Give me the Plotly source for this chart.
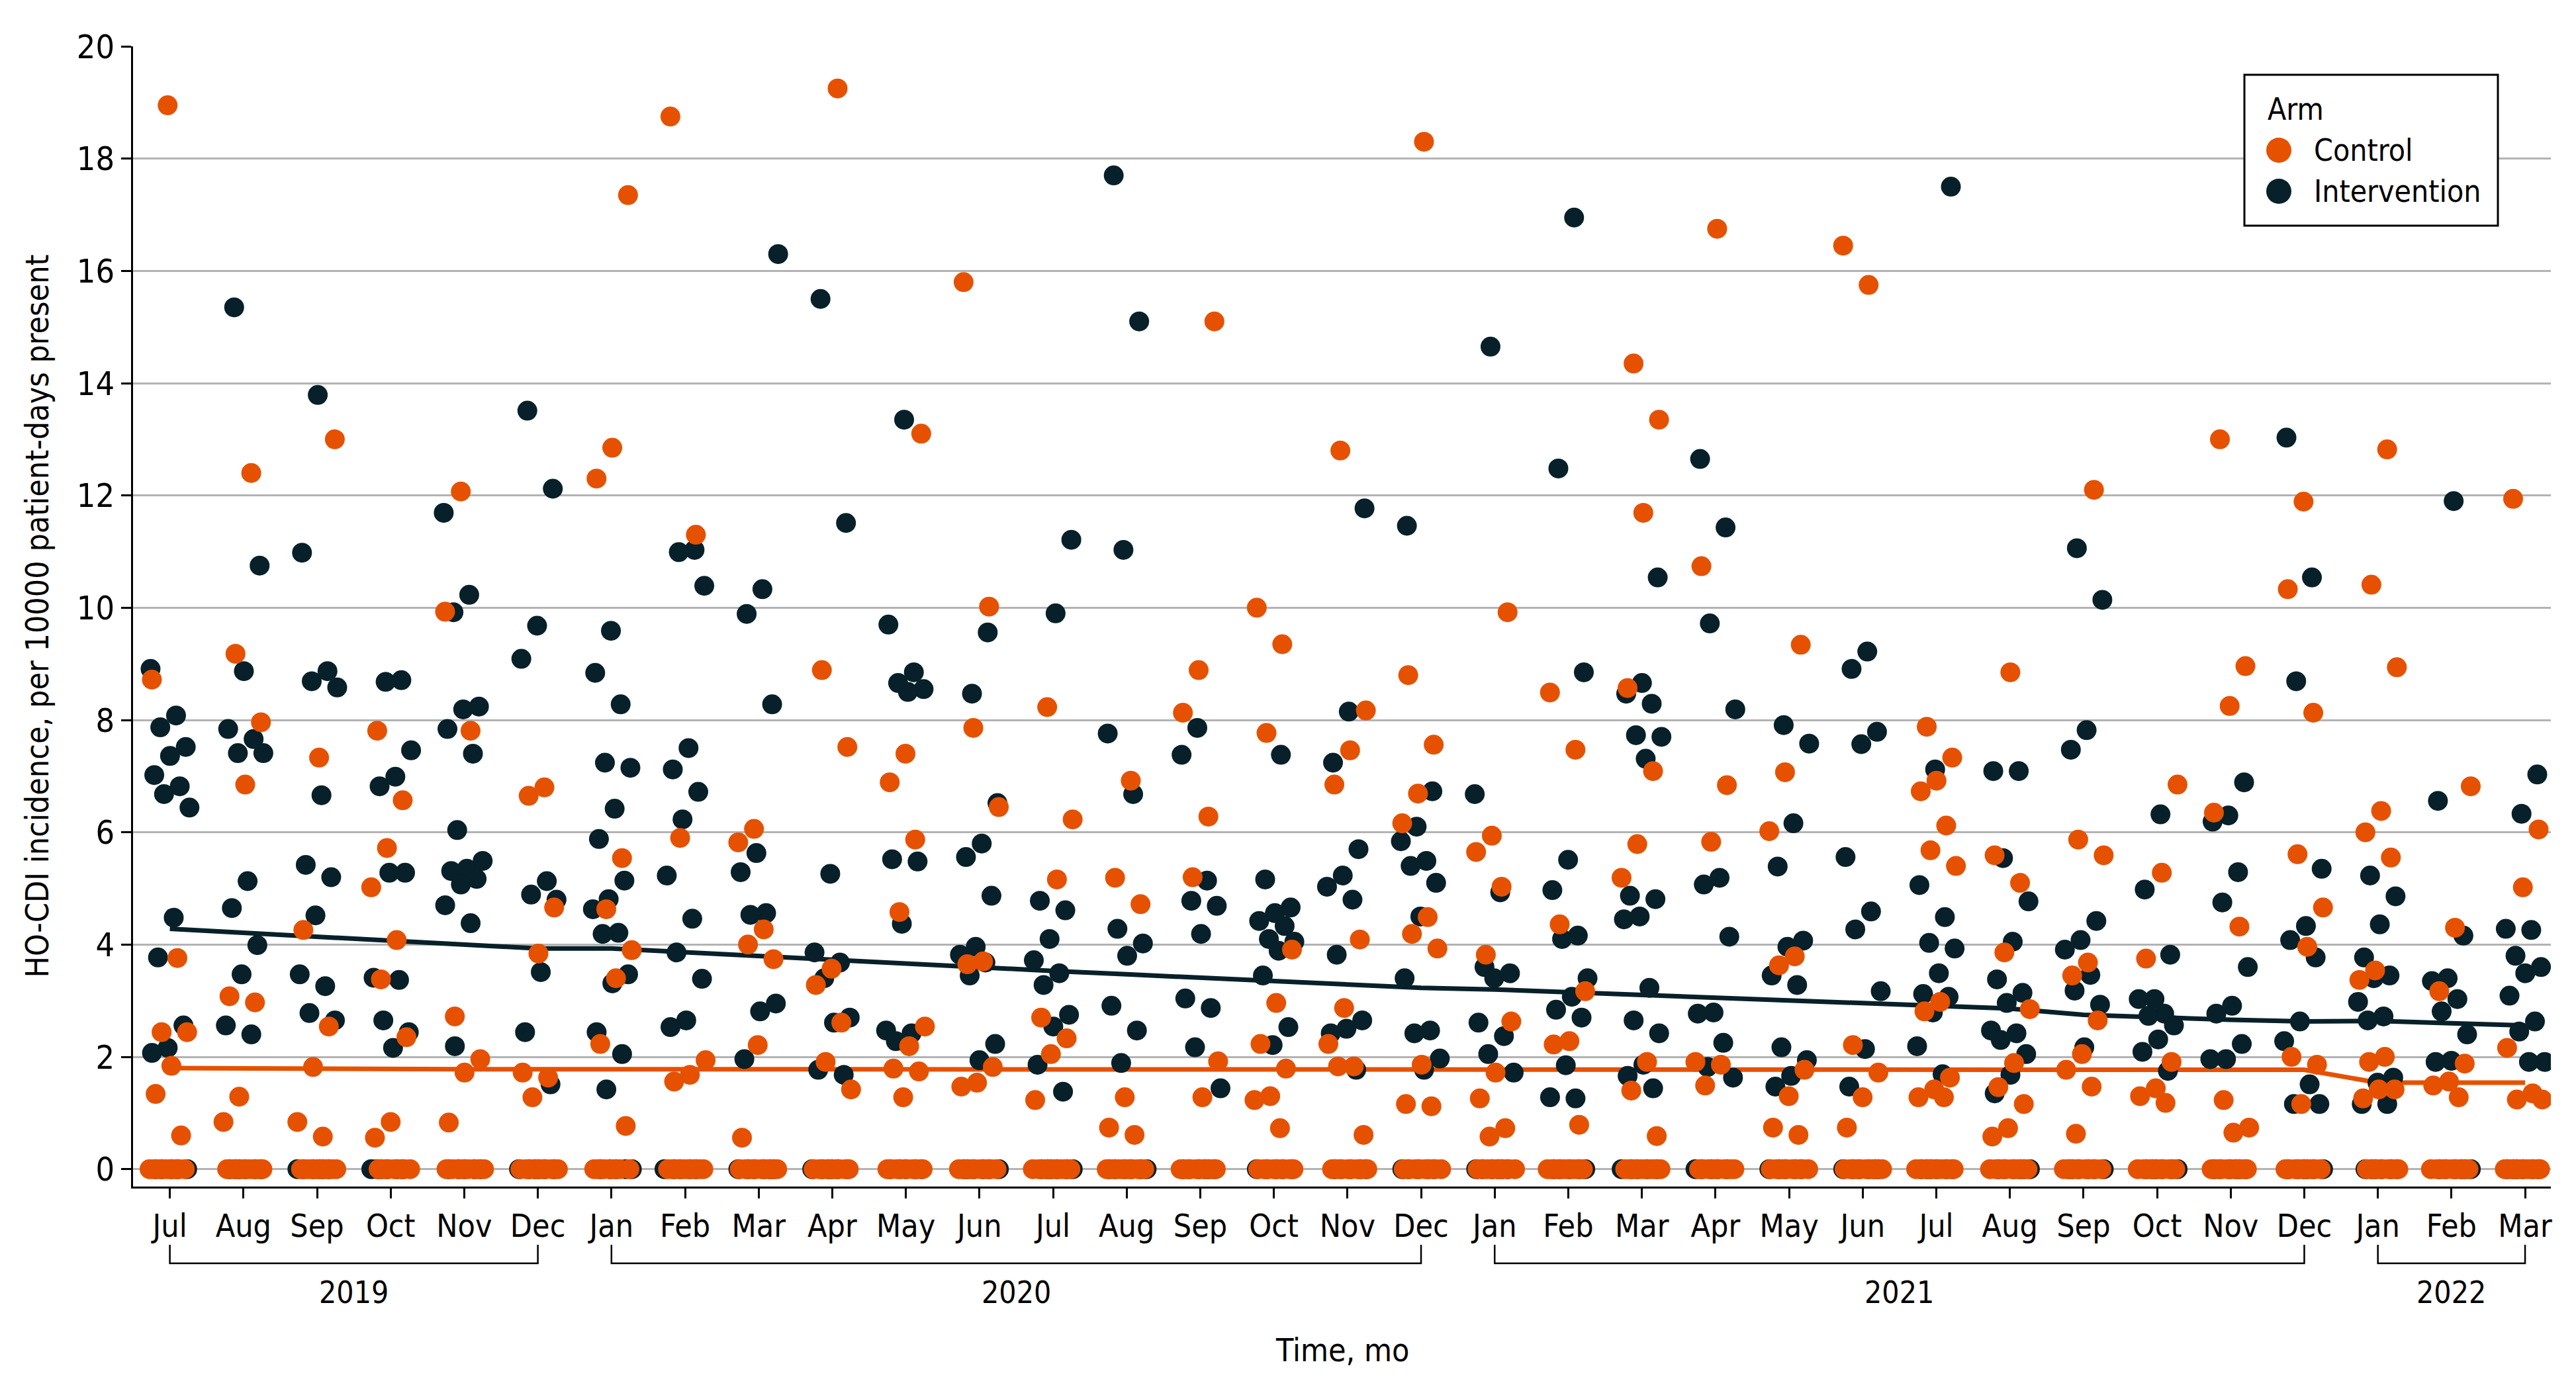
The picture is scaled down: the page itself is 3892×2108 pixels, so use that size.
import plotly.graph_objects as go

# Month axis (Jul 2019 - Mar 2022)
MONTHS = ["Jul", "Aug", "Sep", "Oct", "Nov", "Dec",
          "Jan", "Feb", "Mar", "Apr", "May", "Jun", "Jul", "Aug", "Sep", "Oct", "Nov", "Dec",
          "Jan", "Feb", "Mar", "Apr", "May", "Jun", "Jul", "Aug", "Sep", "Oct", "Nov", "Dec",
          "Jan", "Feb", "Mar"]
YEARS = ["2019", "2020", "2021", "2022"]
YEAR_START = [0, 6, 18, 30]
YEAR_END = [5, 17, 29, 32]

# Non-zero hospital-month incidences, per month
CONTROL = [
    [18.95, 8.72, 3.76, 2.44, 2.44, 1.84, 1.34, 0.60],
    [12.40, 9.18, 7.96, 6.85, 3.08, 2.97, 1.29, 0.84],
    [13.00, 7.33, 4.26, 2.54, 1.82, 0.84, 0.58],
    [7.81, 6.57, 5.72, 5.02, 4.08, 3.38, 2.35, 0.84, 0.56],
    [12.07, 9.93, 7.81, 2.72, 1.96, 1.72, 0.83],
    [6.80, 6.65, 4.66, 3.84, 1.72, 1.63, 1.28],
    [17.35, 12.85, 12.30, 5.54, 4.63, 3.90, 3.40, 2.23, 0.77],
    [18.75, 11.30, 5.90, 1.94, 1.68, 1.56],
    [6.06, 5.82, 4.27, 4.00, 3.74, 2.21, 0.56],
    [19.25, 8.89, 7.52, 3.57, 3.28, 2.61, 1.91, 1.42],
    [13.10, 7.40, 6.89, 5.87, 4.58, 2.54, 2.19, 1.79, 1.74, 1.28],
    [15.80, 10.02, 7.86, 6.45, 3.70, 3.65, 1.82, 1.54, 1.47],
    [8.23, 6.23, 5.16, 2.70, 2.33, 2.05, 1.23],
    [6.92, 5.19, 4.72, 1.28, 0.74, 0.61],
    [15.10, 8.89, 8.13, 6.28, 5.20, 1.92, 1.28],
    [10.00, 9.35, 7.77, 3.91, 2.96, 2.23, 1.79, 1.30, 1.23, 0.73],
    [12.80, 8.17, 7.46, 6.85, 4.09, 2.87, 2.23, 1.83, 1.83, 0.61],
    [18.30, 8.80, 7.56, 6.69, 6.16, 4.49, 4.19, 3.93, 1.86, 1.16, 1.12],
    [9.92, 5.94, 5.65, 5.03, 3.82, 2.63, 1.72, 1.26, 0.73, 0.58],
    [8.49, 7.47, 4.36, 3.17, 2.28, 2.22, 0.79],
    [14.35, 13.35, 11.69, 8.57, 7.09, 5.79, 5.19, 1.91, 1.40, 0.59],
    [16.75, 10.74, 6.84, 5.83, 1.91, 1.86, 1.49],
    [9.34, 7.07, 6.02, 3.79, 3.63, 1.77, 1.30, 0.74, 0.61],
    [16.45, 15.75, 2.21, 1.72, 1.28, 0.74],
    [7.88, 7.33, 6.92, 6.73, 6.12, 5.68, 5.40, 2.98, 2.81, 1.63, 1.42, 1.28, 1.28],
    [8.85, 5.59, 5.10, 3.86, 2.85, 1.89, 1.46, 1.16, 0.73, 0.58],
    [12.10, 5.87, 5.59, 3.68, 3.45, 2.65, 2.05, 1.77, 1.47, 0.63],
    [6.85, 5.28, 3.75, 1.91, 1.44, 1.30, 1.18],
    [13.00, 8.96, 8.25, 6.35, 4.32, 1.23, 0.74, 0.65],
    [11.89, 10.33, 8.13, 5.61, 4.66, 3.96, 2.00, 1.86, 1.16],
    [12.82, 10.41, 8.94, 6.38, 6.00, 5.55, 3.54, 3.37, 2.00, 1.91, 1.42, 1.42, 1.26],
    [6.82, 4.30, 3.17, 1.88, 1.56, 1.49, 1.28],
    [11.94, 6.05, 5.02, 2.16, 1.35, 1.24, 1.24],
]
INTERVENTION = [
    [8.91, 8.08, 7.87, 7.52, 7.36, 7.02, 6.82, 6.68, 6.44, 4.48, 3.77, 2.56, 2.16, 2.07],
    [15.35, 10.75, 8.87, 7.84, 7.66, 7.41, 7.41, 5.13, 4.65, 3.99, 3.47, 2.56, 2.40],
    [13.79, 10.98, 8.87, 8.69, 8.58, 6.66, 5.42, 5.20, 4.52, 3.47, 3.26, 2.78, 2.65],
    [8.71, 8.68, 7.46, 6.99, 6.82, 5.28, 5.28, 3.41, 3.37, 2.65, 2.44, 2.16],
    [11.69, 10.23, 9.92, 8.24, 8.19, 7.84, 7.40, 6.04, 5.49, 5.35, 5.31, 5.17, 5.07, 4.70, 4.38, 2.19],
    [13.51, 12.12, 9.68, 9.09, 5.13, 4.89, 4.80, 3.51, 2.44, 1.51],
    [9.59, 8.84, 8.28, 7.24, 7.15, 6.42, 5.88, 5.14, 4.81, 4.63, 4.21, 4.19, 3.47, 3.31, 2.44, 2.05, 1.42],
    [11.03, 10.99, 10.39, 7.50, 7.12, 6.72, 6.23, 5.23, 4.46, 3.86, 3.39, 2.65, 2.53],
    [16.30, 10.33, 9.89, 8.28, 5.63, 5.29, 4.56, 4.53, 2.95, 2.81, 1.96],
    [15.50, 11.51, 5.26, 3.86, 3.68, 3.40, 2.70, 2.61, 1.77, 1.68],
    [13.35, 9.70, 8.85, 8.66, 8.55, 8.50, 5.52, 5.48, 4.37, 2.47, 2.42, 2.28],
    [9.56, 8.47, 6.52, 5.80, 5.56, 4.87, 3.96, 3.82, 3.68, 3.45, 2.23, 1.94],
    [11.21, 9.90, 4.78, 4.61, 4.10, 3.72, 3.49, 3.28, 2.75, 2.54, 1.86, 1.38],
    [17.70, 15.10, 11.03, 7.76, 6.68, 4.28, 4.02, 3.80, 2.91, 2.47, 1.89],
    [7.86, 7.38, 5.14, 4.78, 4.69, 4.19, 3.04, 2.87, 2.17, 1.44],
    [7.38, 5.16, 4.66, 4.56, 4.42, 4.33, 4.10, 4.05, 3.89, 3.45, 2.53, 2.21],
    [11.77, 8.15, 7.24, 5.70, 5.23, 5.03, 4.80, 3.82, 2.65, 2.50, 2.42, 1.77],
    [11.46, 6.73, 6.10, 5.84, 5.49, 5.40, 5.10, 4.50, 3.40, 2.47, 2.42, 1.97, 1.77],
    [14.65, 6.68, 4.93, 3.60, 3.49, 3.40, 2.61, 2.37, 2.05, 1.72],
    [16.95, 12.48, 8.85, 5.51, 4.97, 4.16, 4.10, 3.40, 3.07, 2.84, 2.70, 1.85, 1.28, 1.26],
    [10.54, 8.66, 8.47, 8.29, 7.73, 7.70, 7.31, 4.87, 4.81, 4.50, 4.45, 3.23, 2.65, 2.42, 1.86, 1.66, 1.44],
    [12.65, 11.43, 9.72, 8.19, 5.19, 5.07, 4.14, 2.79, 2.77, 2.25, 1.82, 1.63],
    [7.91, 7.58, 6.16, 5.39, 4.07, 3.96, 3.45, 3.28, 2.17, 1.94, 1.66, 1.47],
    [9.22, 8.91, 7.79, 7.57, 5.56, 4.59, 4.27, 3.17, 2.14, 1.47],
    [17.50, 7.12, 5.06, 4.49, 4.03, 3.93, 3.49, 3.12, 3.07, 2.79, 2.19, 1.69],
    [7.09, 7.09, 5.54, 4.77, 4.05, 3.38, 3.14, 2.96, 2.47, 2.42, 2.30, 2.05, 1.68, 1.35],
    [11.06, 10.14, 7.82, 7.47, 4.42, 4.08, 3.91, 3.46, 3.18, 2.93, 2.17],
    [6.32, 4.98, 3.82, 3.03, 3.03, 2.77, 2.73, 2.56, 2.31, 2.09, 1.75],
    [6.89, 6.30, 6.19, 5.29, 4.75, 3.60, 2.91, 2.77, 2.23, 1.96, 1.96],
    [13.03, 10.54, 8.69, 5.35, 4.33, 4.08, 3.77, 2.63, 2.28, 1.51, 1.16, 1.16],
    [5.23, 4.86, 4.36, 3.77, 3.45, 3.40, 2.98, 2.72, 2.65, 1.63, 1.54, 1.16, 1.16],
    [11.90, 6.56, 4.16, 3.40, 3.35, 3.03, 2.81, 2.40, 1.93, 1.91],
    [7.03, 6.33, 4.28, 4.26, 3.80, 3.60, 3.49, 3.09, 2.63, 2.45, 1.91, 1.91],
]
# hospitals with zero cases in the month (estimated from the width of the zero rows)
ZERO_CONTROL = [8, 8, 8, 7, 8, 8, 7, 8, 8, 8, 8, 8, 8, 8, 8, 8, 8, 8, 8, 8, 8, 8, 8, 8, 8, 8, 8, 8, 8, 8, 7, 8, 8]
ZERO_INTERVENTION = [5, 6, 6, 6, 5, 6, 5, 5, 6, 6, 5, 6, 6, 6, 6, 5, 5, 5, 6, 5, 5, 5, 5, 6, 6, 6, 6, 6, 6, 6, 6, 6, 6]

# Model-estimated trend per month
TREND_CONTROL = [1.80, 1.79, 1.79, 1.79, 1.78, 1.78, 1.78, 1.78, 1.78, 1.77, 1.77, 1.77,
                 1.77, 1.77, 1.77, 1.77, 1.77, 1.77, 1.77, 1.77, 1.77, 1.77, 1.77, 1.77,
                 1.77, 1.77, 1.77, 1.77, 1.77, 1.77, 1.54, 1.54, 1.54]
TREND_INTERVENTION = [4.28, 4.21, 4.14, 4.07, 4.00, 3.93, 3.93, 3.86, 3.79, 3.73, 3.66, 3.59,
                      3.53, 3.47, 3.41, 3.35, 3.29, 3.23, 3.20, 3.15, 3.10, 3.04, 2.99, 2.94,
                      2.90, 2.86, 2.75, 2.70, 2.66, 2.63, 2.64, 2.60, 2.56]

ORANGE = "#E65100"
DARK = "#07202A"
FONT = "Liberation Sans Narrow, Arial Narrow, DejaVu Sans Condensed, sans-serif"

# figure size (page body adds an 8 px offset) and plot area in page pixels
W, H = 3884, 2100
L, R, T, B = 193, 38, 62, 315
AX_LEFT, AX_TOP = 201, 70
PW, PH = W - L - R, H - T - B


def px(xp):
    return (xp - AX_LEFT) / PW


def py(yp):
    return (AX_TOP + PH - yp) / PH


def jitter(n, seed):
    # deterministic spread of points around the month position
    return [(((k + 1) * 0.6180339887 + seed * 0.4142) % 1 - 0.5) * 0.56 for k in range(n)]


def arm_points(values, zeros, seed):
    xs, ys = [], []
    for i, vals in enumerate(values):
        ally = list(vals) + [0.0] * zeros[i]
        offs = jitter(len(ally), i * 3 + seed)
        xs += [i + o for o in offs]
        ys += ally
    return xs, ys


fig = go.Figure()

months_idx = list(range(len(MONTHS)))
fig.add_trace(go.Scatter(x=months_idx, y=TREND_INTERVENTION, mode="lines",
                         line=dict(color=DARK, width=7), showlegend=False, hoverinfo="skip"))
fig.add_trace(go.Scatter(x=months_idx, y=TREND_CONTROL, mode="lines",
                         line=dict(color=ORANGE, width=7), showlegend=False, hoverinfo="skip"))

xi, yi = arm_points(INTERVENTION, ZERO_INTERVENTION, 1)
fig.add_trace(go.Scatter(x=xi, y=yi, mode="markers", name="Intervention",
                         marker=dict(color=DARK, size=30, line=dict(width=0)), showlegend=False))
xc, yc = arm_points(CONTROL, ZERO_CONTROL, 2)
fig.add_trace(go.Scatter(x=xc, y=yc, mode="markers", name="Control",
                         marker=dict(color=ORANGE, size=30, line=dict(width=0)), showlegend=False))

shapes = []
annotations = []

# year brackets under the month labels
for name, a, b in zip(YEARS, YEAR_START, YEAR_END):
    y_top, y_bot = py(1881), py(1909)
    shapes.append(dict(type="path", xref="x", yref="paper",
                       path=f"M {a},{y_top} L {a},{y_bot} L {b},{y_bot} L {b},{y_top}",
                       line=dict(color="black", width=2.5)))
    annotations.append(dict(x=(a + b) / 2, y=py(1953), xref="x", yref="paper", text=name,
                            showarrow=False, xanchor="center", yanchor="middle",
                            font=dict(size=46, color="black", family=FONT)))

annotations.append(dict(x=0.5, y=py(2040), xref="paper", yref="paper", text="Time, mo",
                        showarrow=False, xanchor="center", yanchor="middle",
                        font=dict(size=48, color="black", family=FONT)))
annotations.append(dict(x=px(55), y=0.5, xref="paper", yref="paper",
                        text="HO-CDI incidence, per 10000 patient-days present",
                        textangle=-90, showarrow=False, xanchor="center", yanchor="middle",
                        font=dict(size=48, color="black", family=FONT)))

# legend box
shapes.append(dict(type="rect", xref="paper", yref="paper", x0=px(3391), x1=px(3774),
                   y0=py(341), y1=py(113), line=dict(color="black", width=3),
                   fillcolor="white", layer="above"))
annotations.append(dict(x=px(3424), y=py(165), xref="paper", yref="paper", text="Arm",
                        showarrow=False, xanchor="left", yanchor="middle",
                        font=dict(size=46, color="black", family=FONT)))
for label, color, yc_px in [("Control", ORANGE, 227), ("Intervention", DARK, 289)]:
    shapes.append(dict(type="circle", xref="paper", yref="paper",
                       x0=px(3443 - 19), x1=px(3443 + 19), y0=py(yc_px + 19), y1=py(yc_px - 19),
                       fillcolor=color, line=dict(width=0), layer="above"))
    annotations.append(dict(x=px(3494), y=py(yc_px), xref="paper", yref="paper", text=label,
                            showarrow=False, xanchor="left", yanchor="middle",
                            font=dict(size=46, color="black", family=FONT)))

fig.update_layout(
    width=W, height=H,
    margin=dict(l=L, r=R, t=T, b=B),
    plot_bgcolor="white", paper_bgcolor="white",
    font=dict(family=FONT, size=46, color="black"),
    showlegend=False,
    shapes=shapes, annotations=annotations,
)
fig.update_xaxes(range=[-0.5, 32.35], tickmode="array", tickvals=months_idx, ticktext=MONTHS,
                 showgrid=False, zeroline=False, showline=True, linecolor="black", linewidth=3,
                 ticks="outside", ticklen=15, tickwidth=2.5, tickcolor="black",
                 tickfont=dict(size=48, family=FONT, color="black"))
fig.update_yaxes(range=[-0.31, 20], tickvals=list(range(0, 21, 2)),
                 showgrid=True, gridcolor="#B3B3B3", gridwidth=3, zeroline=False,
                 showline=True, linecolor="black", linewidth=3,
                 ticks="outside", ticklen=15, tickwidth=2.5, tickcolor="black",
                 tickfont=dict(size=50, family=FONT, color="black"))

fig.write_html("out.html")
